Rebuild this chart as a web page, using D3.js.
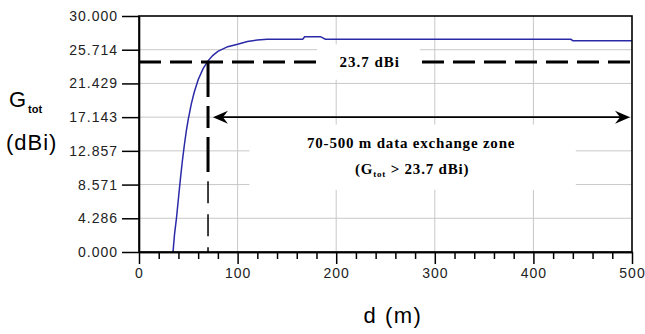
<!DOCTYPE html>
<html><head><meta charset="utf-8">
<script src="https://cdn.jsdelivr.net/npm/d3@7"></script>
<style>body{margin:0;background:#fff} svg{display:block}</style>
</head><body><svg id="c" width="645" height="334"></svg>
<script>
// ---- data ----
const distances = [34.5, 36, 38, 40, 42, 44, 46, 48, 50, 53, 56, 60, 65, 70, 75, 80, 90, 100, 110, 120, 130, 140, 166, 168, 184, 189, 438, 440, 500];
const gains     = [0, 2.2, 4.3, 6.8, 9.3, 11.6, 13.6, 15.4, 16.9, 18.8, 20.3, 21.9, 23.3, 24.3, 25.0, 25.5, 26.1, 26.4, 26.75, 26.95, 27.04, 27.04, 27.04, 27.37, 27.37, 27.04, 27.04, 26.86, 26.86];
const xTicks = [0, 100, 200, 300, 400, 500];
const xMinorTicks = [20,40,60,80,120,140,160,180,220,240,260,280,320,340,360,380,420,440,460,480];
const yTicks = [0, 4.286, 8.571, 12.857, 17.143, 21.429, 25.714, 30];
const yTickLabels = ["0.000","4.286","8.571","12.857","17.143","21.429","25.714","30.000"];
const thresholdText = "23.7 dBi";
const thresholdLineG = 24.15;   // where the dashed line sits in the picture
const zoneD = 70;
const arrowRange = [75, 498];
const arrowG = 17.143;
const zoneText = "70-500 m data exchange zone";

// ---- layout ----
const svg = d3.select("#c");
const x = d3.scaleLinear().domain([0, 500]).range([139, 632]);
const y = d3.scaleLinear().domain([0, 30]).range([252, 16]);
const grid = "#c8c8c8";

// gridlines
svg.append("g").selectAll("line").data(yTicks.slice(1, -1)).join("line")
  .attr("x1", x(0)).attr("x2", x(500)).attr("y1", d => y(d)).attr("y2", d => y(d))
  .attr("stroke", grid).attr("stroke-width", 1);
svg.append("g").selectAll("line").data(xTicks.slice(1, -1)).join("line")
  .attr("y1", y(0)).attr("y2", y(30)).attr("x1", d => x(d)).attr("x2", d => x(d))
  .attr("stroke", grid).attr("stroke-width", 1);

// white label boxes (cover gridlines)
svg.append("rect").attr("x", x(112)).attr("y", y(16.2)).attr("width", x(443) - x(112)).attr("height", y(7.9) - y(16.2)).attr("fill", "#fff");
svg.append("rect").attr("x", x(180.5)).attr("y", y(26.4)).attr("width", x(285) - x(180.5)).attr("height", y(21.9) - y(26.4)).attr("fill", "#fff");

// curve
svg.append("path")
  .datum(distances.map((d, i) => [d, gains[i]]))
  .attr("d", d3.line().x(d => x(d[0])).y(d => y(d[1])))
  .attr("fill", "none").attr("stroke", "#2a2aa8").attr("stroke-width", 1.5);

// threshold dashed lines
svg.append("line").attr("x1", x(0)).attr("x2", x(180.5)).attr("y1", y(thresholdLineG)).attr("y2", y(thresholdLineG))
  .attr("stroke", "#000").attr("stroke-width", 3).attr("stroke-dasharray", "22,9");
svg.append("line").attr("x1", x(287)).attr("x2", x(500)).attr("y1", y(thresholdLineG)).attr("y2", y(thresholdLineG))
  .attr("stroke", "#000").attr("stroke-width", 3).attr("stroke-dasharray", "22,9");
svg.append("line").attr("x1", x(zoneD)).attr("x2", x(zoneD)).attr("y1", y(thresholdLineG)).attr("y2", y(9.5))
  .attr("stroke", "#000").attr("stroke-width", 3).attr("stroke-dasharray", "35,9,22,9");
svg.append("line").attr("x1", x(zoneD)).attr("x2", x(zoneD)).attr("y1", y(9.0)).attr("y2", y(0))
  .attr("stroke", "#000").attr("stroke-width", 1.5).attr("stroke-dasharray", "22,11");

// double arrow
const ay = y(arrowG), ax1 = x(arrowRange[0]), ax2 = x(arrowRange[1]);
svg.append("line").attr("x1", ax1 + 8).attr("x2", ax2 - 8).attr("y1", ay).attr("y2", ay)
  .attr("stroke", "#000").attr("stroke-width", 1.8);
function head(tx, dir) {
  const L = 15, W = 6.5, N = 10;
  svg.append("path")
    .attr("d", `M${tx},${ay} L${tx + dir * L},${ay - W} L${tx + dir * N},${ay} L${tx + dir * L},${ay + W} Z`)
    .attr("fill", "#000");
}
head(ax1, 1); head(ax2, -1);

// frame
svg.append("rect").attr("x", x(0)).attr("y", y(30)).attr("width", x(500) - x(0)).attr("height", y(0) - y(30))
  .attr("fill", "none").attr("stroke", "#000").attr("stroke-width", 1.6);

// axes
const tickFont = "'Liberation Sans', Arial, sans-serif";
const yAxis = svg.append("g").attr("transform", `translate(${x(0)},0)`)
  .call(d3.axisLeft(y).tickValues(yTicks).tickFormat((d, i) => yTickLabels[i]).tickSize(17).tickPadding(4).tickSizeOuter(0));
const xAxis = svg.append("g").attr("transform", `translate(0,${y(0)})`)
  .call(d3.axisBottom(x).tickValues(xTicks).tickFormat(d3.format("d")).tickSize(12).tickPadding(4).tickSizeOuter(0));
const xMinor = svg.append("g").attr("transform", `translate(0,${y(0)})`)
  .call(d3.axisBottom(x).tickValues(xMinorTicks).tickFormat("").tickSize(7).tickSizeOuter(0));
[yAxis, xAxis, xMinor].forEach(g => {
  g.select(".domain").attr("stroke", "#000").attr("stroke-width", 1.6);
  g.selectAll(".tick line").attr("stroke", "#000").attr("stroke-width", 1.5);
  g.selectAll("text").attr("font-family", tickFont).attr("font-size", 14).attr("fill", "#222").attr("letter-spacing", "1px");
});

// annotations
const serif = "'Liberation Serif', 'Times New Roman', serif";
svg.append("text").attr("x", x(234)).attr("y", y(thresholdLineG)).attr("dy", "0.33em")
  .attr("text-anchor", "middle").attr("font-family", serif).attr("font-weight", "bold").attr("font-size", 15)
  .attr("letter-spacing", "1px").text(thresholdText);
svg.append("text").attr("x", x(276)).attr("y", 148)
  .attr("text-anchor", "middle").attr("font-family", serif).attr("font-weight", "bold").attr("font-size", 15)
  .attr("letter-spacing", "0.8px").text(zoneText);
const t2 = svg.append("text").attr("x", x(277)).attr("y", 174)
  .attr("text-anchor", "middle").attr("font-family", serif).attr("font-weight", "bold").attr("font-size", 15)
  .attr("letter-spacing", "0.8px");
t2.append("tspan").text("(G");
t2.append("tspan").attr("font-size", 9).attr("dy", 3).text("tot");
t2.append("tspan").attr("dy", -3).text(" > 23.7 dBi)");

// axis titles
const sans = "'Liberation Sans', Arial, sans-serif";
svg.append("text").attr("x", 9).attr("y", 107).attr("font-family", sans).attr("font-size", 22).text("G");
svg.append("text").attr("x", 28).attr("y", 113).attr("font-family", sans).attr("font-size", 11).attr("font-weight", "bold").text("tot");
svg.append("text").attr("x", 6).attr("y", 150).attr("font-family", sans).attr("font-size", 22).attr("letter-spacing", "1px").text("(dBi)");
svg.append("text").attr("x", 393).attr("y", 323).attr("text-anchor", "middle").attr("font-family", sans).attr("font-size", 22).attr("letter-spacing", "1.5px").text("d (m)");
</script></body></html>
